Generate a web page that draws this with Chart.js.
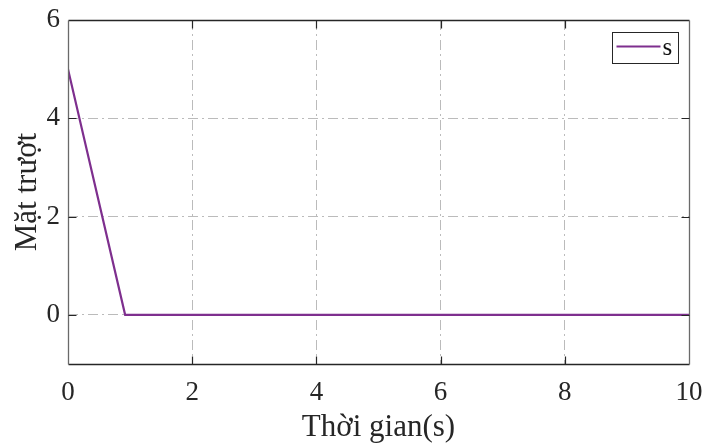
<!DOCTYPE html>
<html>
<head>
<meta charset="utf-8">
<script src="https://cdn.jsdelivr.net/npm/chart.js@4.4.1/dist/chart.umd.min.js"></script>
<style>
  html, body { margin: 0; padding: 0; background: #fff; }
  #wrap { width: 706px; height: 448px; }
</style>
</head>
<body>
<div id="wrap"><canvas id="slidingChart" width="706" height="448"></canvas></div>
<script>
// Sliding surface s(t): drops from 5 to 0 and stays there
const timeValues = [0, 0.92, 10];
const sValues = [5, 0, 0];
const xTicks = [0, 2, 4, 6, 8, 10];
const yTicks = [-1, 0, 2, 4, 6];
const seriesLabel = 's';

const serif = "'Liberation Serif', 'Times New Roman', serif";
const lineColor = '#7e2f8e';
const gridColor = 'rgba(175, 175, 175, 0.85)';
const gridDash = [10, 4, 2, 4];

// Box outline, inward tick marks and the legend box, MATLAB-style
const axesBox = {
    id: 'axesBox',
    afterDraw(chart) {
        const { ctx, chartArea: a, scales } = chart;
        const L = Math.round(a.left) + 0.5, R = Math.round(a.right) + 0.5;
        const T = Math.round(a.top) + 0.5, B = Math.round(a.bottom) + 0.5;
        ctx.save();
        ctx.lineWidth = 1.3;
        ctx.strokeStyle = '#262626';
        ctx.beginPath();
        ctx.moveTo(L, T); ctx.lineTo(R, T);
        ctx.moveTo(L, B); ctx.lineTo(R, B);
        ctx.stroke();
        ctx.strokeStyle = '#6a6a6a';
        ctx.beginPath();
        ctx.moveTo(L, T); ctx.lineTo(L, B);
        ctx.moveTo(R, T); ctx.lineTo(R, B);
        ctx.stroke();

        ctx.strokeStyle = '#262626';
        ctx.lineWidth = 1.2;
        ctx.beginPath();
        yTicks.filter(v => v !== -1 && v !== 6).forEach(v => {
            const y = Math.round(scales.y.getPixelForValue(v)) + 0.5;
            ctx.moveTo(L, y); ctx.lineTo(L + 8, y);
            ctx.moveTo(R, y); ctx.lineTo(R - 8, y);
        });
        xTicks.filter(v => v !== 0 && v !== 10).forEach(v => {
            const x = Math.round(scales.x.getPixelForValue(v)) + 0.5;
            ctx.moveTo(x, B); ctx.lineTo(x, B - 8);
            ctx.moveTo(x, T); ctx.lineTo(x, T + 8);
        });
        ctx.stroke();

        // legend
        const ds = chart.data.datasets[0];
        const bx = 612.5, by = 32.5, bw = 66, bh = 31;
        ctx.fillStyle = '#fff';
        ctx.fillRect(bx, by, bw, bh);
        ctx.strokeStyle = '#262626';
        ctx.lineWidth = 1;
        ctx.strokeRect(bx, by, bw, bh);
        ctx.strokeStyle = ds.borderColor;
        ctx.lineWidth = 2;
        ctx.beginPath();
        ctx.moveTo(bx + 4, by + 14); ctx.lineTo(bx + 48, by + 14);
        ctx.stroke();
        ctx.fillStyle = '#111';
        ctx.font = '25px ' + serif;
        ctx.textBaseline = 'alphabetic';
        ctx.textAlign = 'left';
        ctx.fillText(ds.label, bx + 50, by + 22);
        ctx.restore();
    }
};

new Chart(document.getElementById('slidingChart'), {
    type: 'line',
    data: {
        labels: timeValues,
        datasets: [{
            label: seriesLabel,
            data: timeValues.map((t, i) => ({ x: t, y: sValues[i] })),
            borderColor: lineColor,
            borderWidth: 2.2,
            pointRadius: 0,
            tension: 0,
            fill: false
        }]
    },
    options: {
        responsive: false,
        animation: false,
        layout: { padding: { top: 20, right: 17, left: 0, bottom: 0 } },
        plugins: {
            legend: { display: false },
            tooltip: { enabled: false }
        },
        scales: {
            x: {
                type: 'linear',
                min: 0,
                max: 10,
                afterBuildTicks: s => { s.ticks = xTicks.map(v => ({ value: v })); },
                afterFit: s => { s.height = 84; s.paddingLeft = 0; s.paddingRight = 0; },
                grid: {
                    color: ctx => (ctx.tick && (ctx.tick.value === 0 || ctx.tick.value === 10)) ? 'rgba(0,0,0,0)' : gridColor,
                    lineWidth: 1,
                    drawTicks: false
                },
                border: { display: false, dash: gridDash },
                ticks: {
                    color: '#262626',
                    font: { family: serif, size: 27 },
                    padding: 13,
                    maxRotation: 0
                },
                title: {
                    display: true,
                    text: 'Thời gian(s)',
                    color: '#262626',
                    font: { family: serif, size: 31 },
                    padding: { top: 0, bottom: 2 }
                }
            },
            y: {
                type: 'linear',
                min: -1,
                max: 6,
                afterBuildTicks: s => { s.ticks = yTicks.map(v => ({ value: v })); },
                afterFit: s => { s.width = 68; s.paddingTop = 0; s.paddingBottom = 0; },
                grid: {
                    color: ctx => (ctx.tick && (ctx.tick.value === -1 || ctx.tick.value === 6)) ? 'rgba(0,0,0,0)' : gridColor,
                    lineWidth: 1,
                    drawTicks: false
                },
                border: { display: false, dash: gridDash },
                ticks: {
                    color: '#262626',
                    font: { family: serif, size: 27 },
                    padding: 8,
                    callback: v => v === -1 ? '' : String(v)
                },
                title: {
                    display: true,
                    text: 'Mặt trượt',
                    color: '#262626',
                    font: { family: serif, size: 31 },
                    padding: { top: 9, bottom: 0 }
                }
            }
        }
    },
    plugins: [axesBox]
});
</script>
</body>
</html>
